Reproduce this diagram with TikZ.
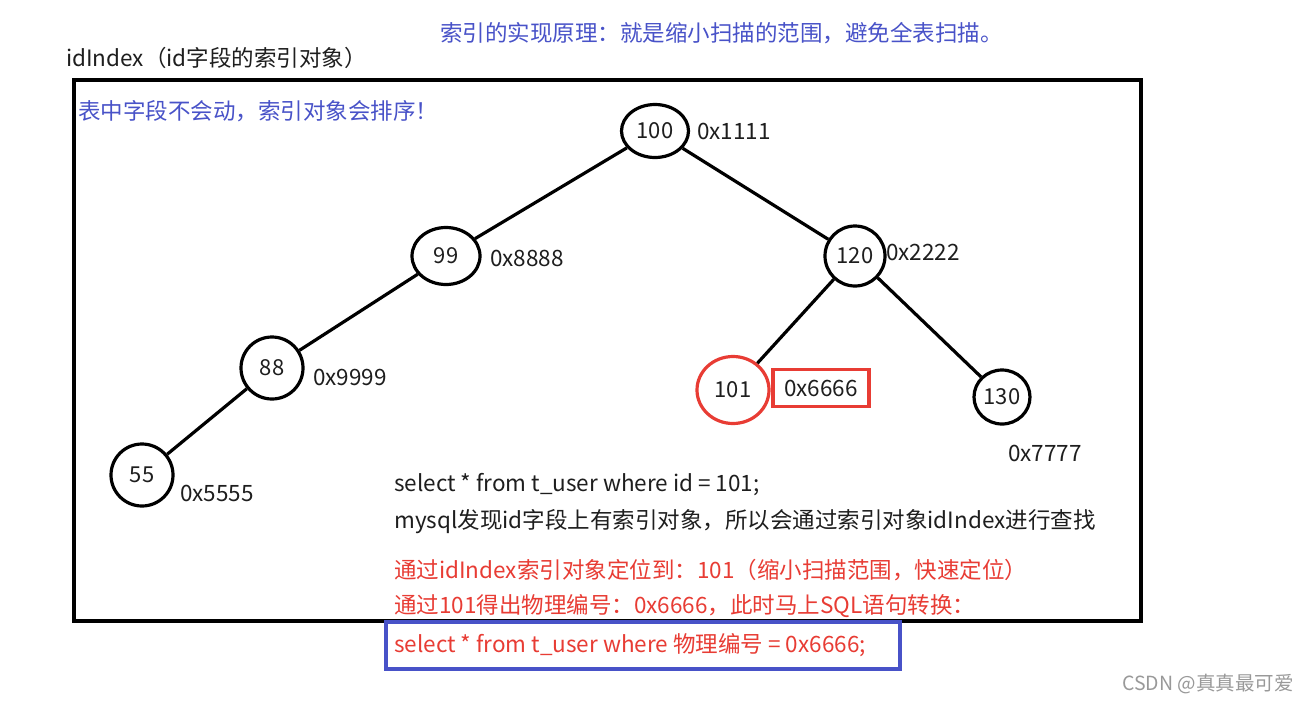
\documentclass[tikz,border=0pt]{standalone}
\usepackage{fontspec}
\setmainfont{Noto Sans CJK SC}
\usetikzlibrary{shapes.geometric}
\definecolor{noteblue}{RGB}{72,82,200}
\definecolor{notered}{RGB}{232,60,52}
\definecolor{txt}{RGB}{30,30,30}
\tikzset{
  tn/.style={draw=black, line width=3.2pt, ellipse, inner sep=0pt, font=\fontsize{22}{24}\selectfont, text=txt},
  addr/.style={font=\fontsize{22.5}{24}\selectfont, text=txt, inner sep=0pt},
  edge/.style={line width=3.2pt, black},
  line/.style={anchor=west, inner sep=0pt, font=\fontsize{22.5}{24}\selectfont}
}
\begin{document}
\begin{tikzpicture}[x=1pt,y=-1pt]
\useasboundingbox (0,0) rectangle (1307,702);
\fill[white] (0,0) rectangle (1307,702);
% frame
\draw[line width=3.4pt] (74,80) rectangle (1141,621);
\draw[noteblue, line width=3.4pt] (386,622) rectangle (900,669);
% titles
\node[line, text=txt] (title) at (66,58) {idIndex（id字段的索引对象）};
\node[line, text=noteblue] (principle) at (440,33) {索引的实现原理：就是缩小扫描的范围，避免全表扫描。};
\node[line, text=noteblue] (note) at (78,111) {表中字段不会动，索引对象会排序！};
% tree nodes
\node[tn, minimum width=67pt, minimum height=53pt] (n100) at (655,131) {100};
\node[tn, minimum width=68pt, minimum height=57pt] (n99) at (446,256) {99};
\node[tn, minimum width=60pt, minimum height=60pt] (n120) at (855,256) {120};
\node[tn, minimum width=62pt, minimum height=62pt] (n88) at (272,368) {88};
\node[tn, minimum width=62pt, minimum height=62pt] (n55) at (142,475) {55};
\node[tn, draw=notered, minimum width=72pt, minimum height=67pt] (n101) at (733,390) {101};
\node[tn, minimum width=56pt, minimum height=54pt] (n130) at (1002,397) {130};
% edges
\draw[edge] (n100) -- (n99);
\draw[edge] (n100) -- (n120);
\draw[edge] (n99) -- (n88);
\draw[edge] (n88) -- (n55);
\draw[edge] (n120) -- (n101);
\draw[edge] (n120) -- (n130);
% addresses
\node[addr, anchor=west] (a100) at (697,131) {0x1111};
\node[addr, anchor=west] (a99) at (490,258) {0x8888};
\node[addr, anchor=west] (a120) at (886,252) {0x2222};
\node[addr, anchor=west] (a88) at (313,377) {0x9999};
\node[addr, anchor=west] (a55) at (180,493) {0x5555};
\node[addr, draw=notered, line width=3.2pt, minimum width=96pt, minimum height=37pt] (a101) at (821,388) {0x6666};
\node[addr, anchor=west] (a130) at (1008,453) {0x7777};
% explanation
\node[line, text=txt] (l1) at (394,485) {select * from t\_user where id = 101;};
\node[line, text=txt] (l2) at (394,522) {mysql发现id字段上有索引对象，所以会通过索引对象idIndex进行查找};
\node[line, text=notered] (l3) at (394,570) {通过idIndex索引对象定位到：101（缩小扫描范围，快速定位）};
\node[line, text=notered] (l4) at (394,606) {通过101得出物理编号：0x6666，此时马上SQL语句转换：};
\node[line, text=notered] (l5) at (394,645) {select * from t\_user where 物理编号 = 0x6666;};
% watermark
\node[anchor=west, inner sep=0pt, text=gray!80, font=\fontsize{19.5}{21}\selectfont] (wm) at (1122,684) {CSDN @真真最可爱};
\end{tikzpicture}
\end{document}
